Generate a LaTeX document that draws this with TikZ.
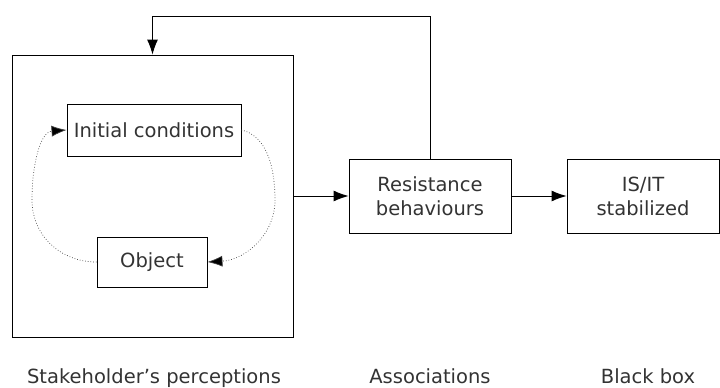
\documentclass[tikz,border=0pt]{standalone}
\usepackage{fontspec}
\setmainfont{DejaVu Sans}
\usetikzlibrary{arrows.meta}
\definecolor{txt}{rgb}{0.2,0.2,0.2}
\tikzset{
  box/.style={draw=black, line width=0.9pt, inner sep=0pt, text=txt, align=center,
    font=\fontsize{19.5}{24}\selectfont},
  lbl/.style={text=txt, font=\fontsize{19.5}{24}\selectfont, inner sep=0pt, anchor=base},
  flow/.style={draw=black, line width=0.9pt, -{Latex[length=15pt,width=11pt]}},
  loop/.style={draw=black!75, line width=0.7pt, dotted,
    -{Latex[length=15pt,width=11pt,fill=black]}}
}
\begin{document}
\begin{tikzpicture}[x=1pt,y=-1pt]
\useasboundingbox (0,0) rectangle (720,388);
\node[box, minimum width=281pt, minimum height=282pt] (big) at (152.5,196) {};
\node[box, minimum width=174pt, minimum height=52pt] (ic) at (154,130) {Initial conditions};
\node[box, minimum width=110pt, minimum height=50pt] (obj) at (152,262) {Object};
\node[box, minimum width=162pt, minimum height=74pt] (rb) at (430,196) {Resistance\\behaviours};
\node[box, minimum width=152pt, minimum height=74pt] (is) at (643,196) {IS/IT\\stabilized};
\node[lbl] (l1) at (154,383) {Stakeholder’s perceptions};
\node[lbl] (l2) at (430,383) {Associations};
\node[lbl] (l3) at (648,383) {Black box};
\coordinate (topc) at (0,16);
\draw[flow] (big.east) -- (rb.west);
\draw[flow] (rb.east) -- (is.west);
\draw[flow] (rb.north) -- (rb.north |- topc) -- (big.north |- topc) -- (big.north);
\draw[loop] (ic.east) .. controls (268,136) and (275,170) .. (275,200)
  .. controls (275,235) and (245,260) .. (obj.east);
\draw[loop] (obj.west) .. controls (60,262) and (32,235) .. (32,200)
  .. controls (32,165) and (40,132) .. (ic.west);
\end{tikzpicture}
\end{document}
